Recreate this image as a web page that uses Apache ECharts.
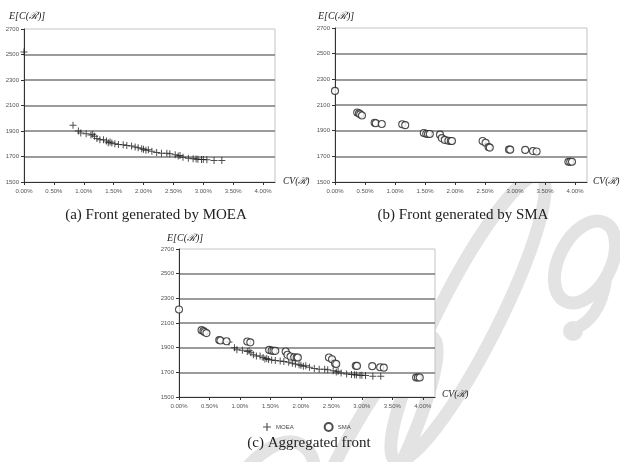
<!DOCTYPE html>
<html lang="en">
<head>
  <meta charset="UTF-8">
  <title>Fronts</title>
  <style>
    body, html { margin: 0; padding: 0; background: #fff; }
    #main { width: 620px; height: 462px; }
  </style>
</head>
<body>
  <div id="main"></div>
<script src="https://cdn.jsdelivr.net/npm/echarts@6/dist/echarts.min.js"></script>
<script>
  // CV(R) in %, E[C(R)]
  var moeaExtraCV = [0];
  var moeaExtraCost = [2520];
  var moeaCV = [0.82, 0.91, 0.95, 1.04, 1.12, 1.15, 1.18, 1.22, 1.27, 1.33, 1.38, 1.41, 1.44, 1.47, 1.52, 1.58,
    1.66, 1.72, 1.80, 1.86, 1.91, 1.97, 2.00, 2.04, 2.08, 2.14, 2.22, 2.30, 2.39, 2.44, 2.53, 2.58, 2.61,
    2.66, 2.75, 2.83, 2.88, 2.91, 2.97, 3.00, 3.06, 3.18, 3.31];
  var moeaCost = [1945, 1900, 1884, 1879, 1868, 1874, 1858, 1842, 1832, 1832, 1821, 1808, 1813, 1805, 1800, 1795,
    1792, 1787, 1782, 1774, 1768, 1761, 1757, 1750, 1753, 1742, 1732, 1726, 1726, 1721, 1713, 1703, 1708,
    1695, 1687, 1682, 1680, 1679, 1677, 1676, 1674, 1668, 1668];
  var smaCV = [0, 0.37, 0.40, 0.42, 0.45, 0.66, 0.68, 0.78, 1.12, 1.17, 1.48, 1.52, 1.55, 1.58, 1.75, 1.78,
    1.83, 1.89, 1.93, 1.95, 2.46, 2.51, 2.56, 2.58, 2.90, 2.92, 3.17, 3.30, 3.36, 3.89, 3.92, 3.95];
  var smaCost = [2210, 2042, 2035, 2027, 2018, 1962, 1958, 1952, 1950, 1943, 1882, 1876, 1874, 1874, 1869, 1842,
    1828, 1822, 1820, 1820, 1820, 1806, 1772, 1768, 1753, 1752, 1750, 1741, 1738, 1658, 1658, 1658];
  var cvTicks = [0, 4.2, 0.5];       // min, max, step
  var costTicks = [1500, 2700, 200];

  function pairs(xs, ys) {
    return xs.map(function (x, i) { return [x, ys[i]]; });
  }

  var plusIcon = 'path://M3,0H4V3H7V4H4V7H3V4H0V3H3Z';
  var serif = '"Liberation Serif", "DejaVu Serif", serif';
  var sans = '"Liberation Sans", Arial, sans-serif';
  var wmColor = '#e3e3e3';

  var grids = [
    { left: 24, top: 29, width: 251, height: 153 },
    { left: 335, top: 28, width: 252, height: 154 },
    { left: 179, top: 249, width: 256, height: 148 }
  ];

  function xAx(i) {
    return {
      gridIndex: i, type: 'value',
      min: cvTicks[0], max: cvTicks[1], interval: cvTicks[2],
      axisLine: { lineStyle: { color: '#333', width: 1 } },
      axisTick: { length: 3, lineStyle: { color: '#333' } },
      axisLabel: {
        color: '#555', fontSize: 6, fontFamily: sans, margin: 6, showMaxLabel: false,
        formatter: function (v) { return v.toFixed(2) + '%'; }
      },
      splitLine: { show: false }
    };
  }
  function yAx(i) {
    return {
      gridIndex: i, type: 'value',
      min: costTicks[0], max: costTicks[1], interval: costTicks[2],
      axisLine: { show: true, lineStyle: { color: '#333', width: 1 } },
      axisTick: { show: true, length: 3, lineStyle: { color: '#333' } },
      axisLabel: {
        color: '#555', fontSize: 6, fontFamily: sans, margin: 5,
        formatter: function (v) { return String(v); }
      },
      splitLine: { show: true, showMinLine: false, showMaxLine: false, lineStyle: { color: '#7a7a7a', width: 1.5 } }
    };
  }

  function moeaSeries(i, data) {
    return {
      name: 'MOEA', type: 'scatter', xAxisIndex: i, yAxisIndex: i,
      symbol: plusIcon, symbolSize: 7,
      itemStyle: { color: '#222' },
      data: data
    };
  }
  function smaSeries(i) {
    return {
      name: 'SMA', type: 'scatter', xAxisIndex: i, yAxisIndex: i,
      symbol: 'circle', symbolSize: 7,
      itemStyle: { color: '#fff', borderColor: '#222', borderWidth: 1.1 },
      data: pairs(smaCV, smaCost)
    };
  }

  function label(x, y, text, size) {
    return {
      type: 'text', left: x, top: y,
      style: { text: text, font: 'italic ' + size + 'px ' + serif, fill: '#222' }
    };
  }
  function caption(cx, y, text) {
    return {
      type: 'text', x: cx, y: y,
      style: { text: text, font: '15px ' + serif, fill: '#222', align: 'center', verticalAlign: 'middle' }
    };
  }
  // faint "2009" watermark, drawn as thick tilted rings
  function wmRing(x, y, rx, ry, w) {
    return {
      type: 'ellipse', x: x, y: y, rotation: -0.47, z: -10,
      shape: { cx: 0, cy: 0, rx: rx, ry: ry },
      style: { fill: null, stroke: wmColor, lineWidth: w }
    };
  }

  var chart = echarts.init(document.getElementById('main'));
  var option = {
    animation: false,
    grid: grids.map(function (g) {
      return Object.assign({ show: true, backgroundColor: '#fff', borderColor: '#c4c4c4', borderWidth: 1 }, g);
    }),
    xAxis: [xAx(0), xAx(1), xAx(2)],
    yAxis: [yAx(0), yAx(1), yAx(2)],
    legend: {
      data: ['MOEA', 'SMA'], left: 258, top: 417, itemGap: 30,
      itemWidth: 8, itemHeight: 8,
      textStyle: { fontSize: 6, fontFamily: sans, color: '#444' }
    },
    graphic: [
      wmRing(468, 318, 30, 160, 13),
      wmRing(360, 480, 30, 160, 13),
      wmRing(585, 262, 26, 44, 13),
      {
        type: 'bezierCurve', z: -10,
        shape: { x1: 606, y1: 280, x2: 572, y2: 330, cpx1: 600, cpy1: 320 },
        style: { fill: null, stroke: wmColor, lineWidth: 12 }
      },
      { type: 'circle', z: -10, shape: { cx: 573, cy: 331, r: 10 }, style: { fill: wmColor } },
      wmRing(262, 520, 42, 85, 13),
      label(9, 11, 'E[C(ℛ)]', 10),
      label(318, 11, 'E[C(ℛ)]', 10),
      label(167, 233, 'E[C(ℛ)]', 10),
      label(283, 176, 'CV(ℛ)', 9.5),
      label(593, 176, 'CV(ℛ)', 9.5),
      label(442, 389, 'CV(ℛ)', 9.5),
      caption(156, 215, '(a) Front generated by MOEA'),
      caption(463, 215, '(b) Front generated by SMA'),
      caption(309, 443, '(c) Aggregated front')
    ],
    series: [
      moeaSeries(0, pairs(moeaExtraCV, moeaExtraCost).concat(pairs(moeaCV, moeaCost))),
      smaSeries(1),
      moeaSeries(2, pairs(moeaCV, moeaCost)),
      smaSeries(2)
    ]
  };
  chart.setOption(option);
</script>
</body>
</html>
